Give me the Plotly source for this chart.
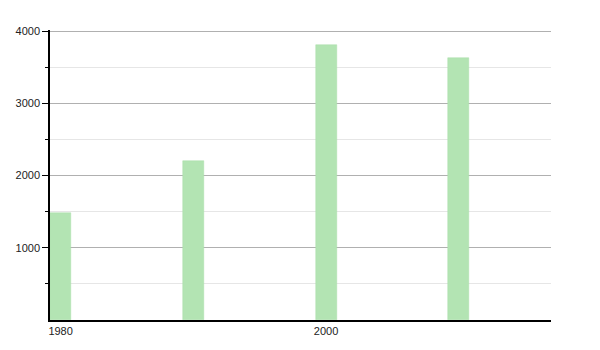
import plotly.graph_objects as go

years = [1980, 1990, 2000, 2010]
population = [1485, 2205, 3800, 3630]
x_tick_vals = [1980, 2000]
x_tick_text = ["1980", "2000"]
y_tick_vals = [1000, 2000, 3000, 4000]
y_tick_text = ["1000", "2000", "3000", "4000"]
y_minor_vals = [500, 1500, 2500, 3500]

fig = go.Figure()
fig.add_trace(go.Bar(
    x=years, y=population, width=1.58,
    marker=dict(color="#b3e4b3", line=dict(color="#a9dea9", width=0.5)),
    hoverinfo="x+y",
))

fig.update_layout(
    width=600, height=350,
    margin=dict(l=50, r=49, t=30, b=30),
    paper_bgcolor="white", plot_bgcolor="white",
    showlegend=False,
    bargap=0,
    font=dict(family="Liberation Sans, Arial, sans-serif", size=11, color="#222"),
    xaxis=dict(
        range=[1979.2, 2016.95],
        tickvals=x_tick_vals, ticktext=x_tick_text,
        showgrid=False, zeroline=False,
        showline=True, linecolor="black", linewidth=1.5,
        ticks="", tickfont=dict(size=11, color="#222"),
    ),
    yaxis=dict(
        range=[0, 4014],
        tickvals=y_tick_vals, ticktext=y_tick_text,
        showgrid=True, gridcolor="#b0b0b0", gridwidth=1,
        zeroline=False,
        showline=True, linecolor="black", linewidth=1.5,
        ticks="outside", ticklen=6, tickcolor="black", tickwidth=1,
        tickfont=dict(size=11, color="#222"),
        minor=dict(tickvals=y_minor_vals, showgrid=True, gridcolor="#e6e6e6",
                   ticks="outside", ticklen=3, tickcolor="black"),
    ),
)

fig.write_html("out.html")
